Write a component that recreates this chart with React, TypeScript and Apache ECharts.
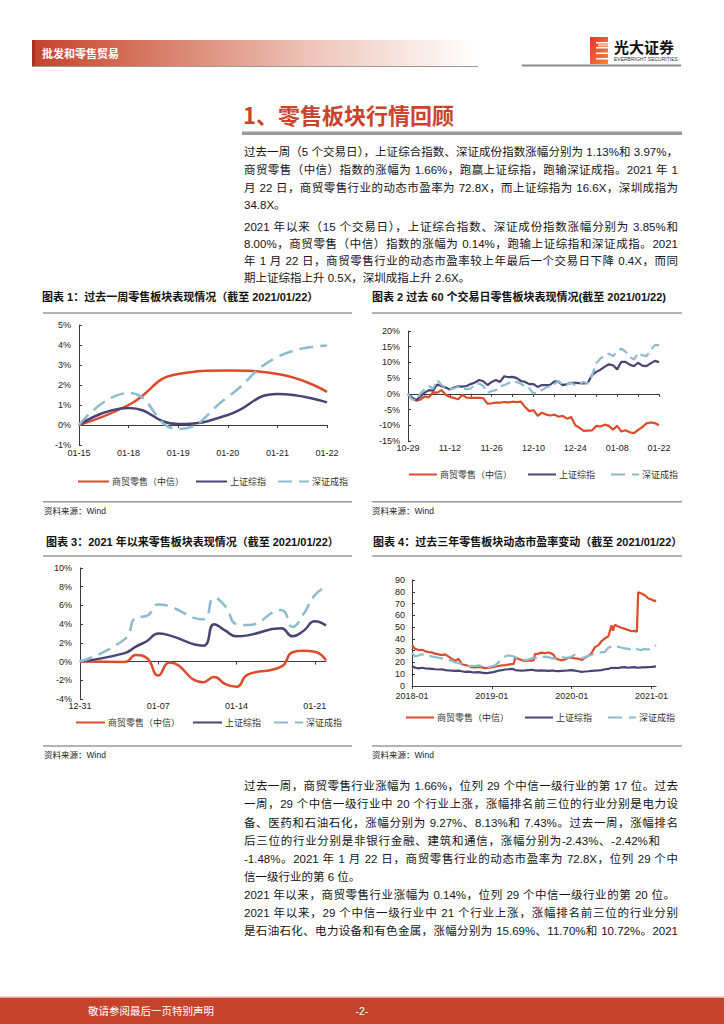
import React, { useEffect, useRef } from "react";
import * as echarts from "echarts";

const FONT = "'Liberation Sans', 'Noto Sans CJK SC', sans-serif";

const seriesNames = ["商贸零售（中信）", "上证综指", "深证成指"];
const seriesColors = ["#dc4b2a", "#4a4474", "#8dbbd0"];

// 图表1：过去一周
const weekDates = ["01-15", "01-18", "01-19", "01-20", "01-21", "01-22"];
const weekRetail = [0, 1.0, 2.55, 2.72, 2.55, 1.66];
const weekSH = [0, 0.85, 0.05, 0.5, 1.55, 1.13];
const weekSZ = [0, 1.6, -0.2, 1.4, 3.4, 3.97];

// 图表2：过去60个交易日
const days60 = [
  "10-29", "10-30", "11-02", "11-03", "11-04", "11-05", "11-06", "11-09", "11-10", "11-11",
  "11-12", "11-13", "11-16", "11-17", "11-18", "11-19", "11-20", "11-23", "11-24", "11-25",
  "11-26", "11-27", "11-30", "12-01", "12-02", "12-03", "12-04", "12-07", "12-08", "12-09",
  "12-10", "12-11", "12-14", "12-15", "12-16", "12-17", "12-18", "12-21", "12-22", "12-23",
  "12-24", "12-25", "12-28", "12-29", "12-30", "12-31", "01-04", "01-05", "01-06", "01-07",
  "01-08", "01-11", "01-12", "01-13", "01-14", "01-15", "01-18", "01-19", "01-20", "01-21",
  "01-22",
];
const retail60 = [
  0, -1.5, -2.2, -1.8, -0.8, -1.1, 0.5, 0.4, 1.2, -0.3,
  -1.0, -1.3, -1.7, -0.3, -1.2, -1.3, -1.3, -1.3, -1.4, -3.1,
  -3.0, -2.8, -2.8, -2.6, -2.7, -2.5, -2.6, -2.5, -4.2, -5.5,
  -5.2, -7.0, -6.0, -6.6, -6.9, -6.6, -7.3, -7.0, -7.9, -7.4,
  -10.0, -10.8, -11.8, -11.7, -11.6, -10.2, -10.4, -9.8, -10.2, -11.4,
  -10.2, -12.0, -11.6, -12.2, -12.5, -11.5, -10.6, -9.4, -9.1, -9.3,
  -10.0,
];
const sh60 = [
  0, -1.2, -2.0, -0.8, 0.4, 1.2, 1.0, 3.0, 2.4, 2.0,
  1.4, 2.0, 2.4, 2.3, 2.5, 3.1, 3.6, 4.4, 4.0, 2.8,
  3.8, 4.4, 3.8, 5.6, 5.3, 5.4, 5.0, 4.1, 3.8, 3.1,
  3.1, 2.2, 2.8, 2.8, 2.9, 4.0, 3.8, 2.8, 3.1, 3.5,
  3.5, 3.4, 3.3, 3.5, 6.0, 7.0, 7.7, 8.6, 9.4, 9.1,
  7.8, 10.2, 10.2, 9.3, 8.8, 9.9, 9.0, 8.8, 9.7, 10.5,
  10.1,
];
const sz60 = [
  0, -1.8, -2.0, 0.2, 1.5, 2.4, 1.7, 4.4, 2.8, 2.0,
  1.5, 1.8, 2.2, 1.8, 1.5, 1.7, 2.8, 3.3, 2.5, 0.3,
  0.9, 1.2, 2.4, 2.8, 3.4, 3.8, 3.8, 3.2, 2.4, 1.7,
  0.1, 0.6, 1.2, 2.0, 2.4, 3.1, 4.1, 2.8, 3.0, 3.5,
  2.8, 3.3, 3.8, 3.3, 5.9, 9.7, 11.3, 12.0, 12.8, 12.0,
  13.4, 14.4, 13.4, 11.8, 10.9, 13.0, 12.3, 12.0, 13.9, 15.5,
  15.5,
];

// 图表3：2021年以来
const ytdDates = [
  "2020-12-31", "2021-01-04", "2021-01-05", "2021-01-06", "2021-01-07", "2021-01-08",
  "2021-01-11", "2021-01-12", "2021-01-13", "2021-01-14", "2021-01-15", "2021-01-18",
  "2021-01-19", "2021-01-20", "2021-01-21", "2021-01-22",
];
const ytdRetail = [0, -0.05, 0.7, 0.35, -1.5, -0.1, -2.2, -1.65, -2.4, -2.7, -1.4, -0.55, 1.0, 1.15, 1.05, 0.14];
const ytdSH = [0, 0.9, 1.6, 2.2, 3.0, 2.8, 1.7, 4.0, 3.3, 2.7, 2.8, 3.55, 2.7, 3.3, 4.3, 3.85];
const ytdSZ = [0, 2.4, 4.7, 4.9, 6.1, 5.9, 4.5, 6.8, 5.9, 4.0, 3.9, 5.5, 3.7, 5.1, 7.1, 8.0];
const ytdTickDates = ["2020-12-31", "2021-01-07", "2021-01-14", "2021-01-21"];
const ytdTickLabels = ["12-31", "01-07", "01-14", "01-21"];

// 图表4：过去三年动态市盈率
const peDates = [
  "2018-01-01", "2018-01-16", "2018-02-01", "2018-02-16", "2018-03-01", "2018-03-16",
  "2018-04-01", "2018-04-16", "2018-05-01", "2018-05-16", "2018-06-01", "2018-06-16",
  "2018-07-01", "2018-07-16", "2018-08-01", "2018-08-16", "2018-09-01", "2018-09-16",
  "2018-10-01", "2018-10-16", "2018-11-01", "2018-11-16", "2018-12-01", "2018-12-16",
  "2019-01-01", "2019-01-16", "2019-02-01", "2019-02-16", "2019-03-01", "2019-03-16",
  "2019-04-01", "2019-04-10", "2019-04-16", "2019-05-01", "2019-05-16", "2019-06-01",
  "2019-06-16", "2019-07-01", "2019-07-10", "2019-07-16", "2019-08-01", "2019-08-16",
  "2019-09-01", "2019-09-16", "2019-10-01", "2019-10-10", "2019-10-16", "2019-11-01",
  "2019-11-16", "2019-12-01", "2019-12-16", "2020-01-01", "2020-01-16", "2020-02-01",
  "2020-02-16", "2020-03-01", "2020-03-16", "2020-04-01", "2020-04-16", "2020-05-01",
  "2020-05-16", "2020-06-01", "2020-06-16", "2020-07-01", "2020-07-08", "2020-07-16",
  "2020-08-01", "2020-08-16", "2020-09-01", "2020-09-16", "2020-10-01", "2020-10-16",
  "2020-10-26", "2020-11-01", "2020-11-16", "2020-12-01", "2020-12-16", "2021-01-01",
  "2021-01-16", "2021-01-22",
];
const peRetail = [
  34.6, 31.5, 30.5, 30.8, 29.5, 28.8, 28.5, 27.5, 26.8, 26.2, 26.8, 25,
  23, 21.5, 23, 18.5, 17.8, 17, 16, 15.8, 16.2, 15.8, 15.2, 15.5,
  15.8, 16.5, 17, 17.5, 17.8, 18.2, 18.5, 18.8, 24, 23, 22, 21.3,
  21.8, 21.5, 22, 27, 27.5, 28.3, 27.8, 28.5, 27.5, 26.5, 24, 22.5,
  21.8, 22.5, 24, 24, 23.5, 23.2, 22, 24, 25.5, 28, 33, 34.5,
  38, 40.5, 42, 51.5, 47, 52, 50.5, 49.5, 48.5, 47.5, 46.5, 46.8,
  46, 79.5, 78.5, 77, 74.5, 73.5, 72, 72.8,
];
const peSH = [
  17, 15.5, 15, 15.5, 15, 14.8, 14.5, 14.2, 14, 14.2, 13.5, 13.2,
  13, 12.8, 13, 12.5, 12, 12.2, 11.8, 11.5, 11.8, 11.3, 11, 11.2,
  11.5, 12.2, 13, 13.5, 14, 14.2, 14.5, 14.2, 13.5, 13.2, 13, 13.2,
  13.5, 13.8, 13.5, 13.2, 13, 13.2, 13, 12.8, 13, 13, 12.8, 12.6,
  12.8, 13, 13.2, 13.5, 13, 12.5, 12, 12.3, 12.5, 12.8, 13, 13.2,
  13.5, 14.2, 14.5, 15.5, 15, 15.5, 15.3, 15.8, 16, 15.5, 15.8, 16,
  15.6, 15.5, 15.8, 15.8, 16, 16.2, 16.5, 16.6,
];
const peSZ = [
  28, 25, 26, 27, 25.5, 26, 25, 24.5, 24, 23.5, 23, 22,
  21.5, 20, 19.5, 18.5, 17.5, 17, 17.2, 17, 17.5, 16.8, 16.5, 16.2,
  16.8, 17.5, 20, 23.5, 25, 26, 25.5, 25, 24.5, 23.5, 22.5, 22,
  22.5, 23.5, 24, 24, 23.5, 24.5, 25, 24.5, 23.5, 23.5, 23.2, 24,
  24.5, 24, 24, 25, 26.5, 25, 23.5, 24.5, 25.5, 26.5, 27.5, 28,
  28.5, 29, 32.5, 33.5, 33, 32.5, 33.5, 32.5, 32, 31.5, 31, 32,
  31.5, 31, 30.5, 31.5, 31, 32.5, 34, 34.8,
];
const peTickDates = ["2018-01-01", "2019-01-01", "2020-01-01", "2021-01-01"];
const peTickLabels = ["2018-01", "2019-01", "2020-01", "2021-01"];

// 正文
const introLines = [
  { t: "过去一周（5 个交易日），上证综合指数、深证成份指数涨幅分别为 1.13%和 3.97%，", y: 152.3, w: 434 },
  { t: "商贸零售（中信）指数的涨幅为 1.66%，跑赢上证综指，跑输深证成指。2021 年 1", y: 170, w: 434 },
  { t: "月 22 日，商贸零售行业的动态市盈率为 72.8X，而上证综指为 16.6X，深圳成指为", y: 187.7, w: 434 },
  { t: "34.8X。", y: 205, w: 0 },
  { t: "2021 年以来（15 个交易日），上证综合指数、深证成份指数涨幅分别为 3.85%和", y: 226.7, w: 434 },
  { t: "8.00%，商贸零售（中信）指数的涨幅为 0.14%，跑输上证综指和深证成指。2021", y: 244, w: 434 },
  { t: "年 1 月 22 日，商贸零售行业的动态市盈率较上年最后一个交易日下降 0.4X，而同", y: 261.3, w: 434 },
  { t: "期上证综指上升 0.5X，深圳成指上升 2.6X。", y: 278.3, w: 0 },
];
const bodyLines = [
  { t: "过去一周，商贸零售行业涨幅为 1.66%，位列 29 个中信一级行业的第 17 位。过去", y: 785.7, w: 434 },
  { t: "一周，29 个中信一级行业中 20 个行业上涨，涨幅排名前三位的行业分别是电力设", y: 804.3, w: 434 },
  { t: "备、医药和石油石化，涨幅分别为 9.27%、8.13%和 7.43%。过去一周，涨幅排名", y: 822.7, w: 434 },
  { t: "后三位的行业分别是非银行金融、建筑和通信，涨幅分别为-2.43%、-2.42%和", y: 841, w: 416 },
  { t: "-1.48%。2021 年 1 月 22 日，商贸零售行业的动态市盈率为 72.8X，位列 29 个中", y: 859.3, w: 434 },
  { t: "信一级行业的第 6 位。", y: 876.7, w: 0 },
  { t: "2021 年以来，商贸零售行业涨幅为 0.14%，位列 29 个中信一级行业的第 20 位。", y: 895, w: 431 },
  { t: "2021 年以来，29 个中信一级行业中 21 个行业上涨，涨幅排名前三位的行业分别", y: 913.3, w: 434 },
  { t: "是石油石化、电力设备和有色金属，涨幅分别为 15.69%、11.70%和 10.72%。2021", y: 931, w: 434 },
];

const dayOffset = (d: string, base: string) => Math.round((Date.parse(d) - Date.parse(base)) / 86400000);
const monthOffset = (d: string) => {
  const [y, m, dd] = d.split("-").map(Number);
  const dim = new Date(y, m, 0).getDate();
  return (y - 2018) * 12 + (m - 1) + (dd - 1) / dim;
};

const AX = "#3a3a3a";
const labelStyle = { fontSize: 9, color: "#222", fontFamily: FONT };

function yAxisOpt(gridIndex: number, min: number, max: number, interval: number, pct: boolean, margin: number) {
  return {
    type: "value", gridIndex, min, max, interval,
    axisLine: { show: true, lineStyle: { color: AX, width: 1 } },
    axisTick: { show: true, inside: true, length: 3, lineStyle: { color: AX } },
    axisLabel: { ...labelStyle, formatter: pct ? "{value}%" : "{value}", margin },
    splitLine: { show: false },
  };
}

function textEl(text: string, x: number, y: number, size: number, opts: any = {}) {
  return {
    type: "text", x, y, silent: true,
    style: {
      text, fontSize: size, fontFamily: opts.family || FONT, fontWeight: opts.weight || "normal",
      fill: opts.fill || "#111", verticalAlign: "middle", textVerticalAlign: "middle",
      align: opts.align || "left", textAlign: opts.align || "left",
    },
  };
}
function lineEl(x1: number, y1: number, x2: number, y2: number, color: string, w: number) {
  return { type: "line", silent: true, shape: { x1, y1, x2, y2 }, style: { stroke: color, lineWidth: w } };
}
function rectEl(x: number, y: number, width: number, height: number, fill: any) {
  return { type: "rect", silent: true, shape: { x, y, width, height }, style: { fill } };
}

function buildOption() {
  const ytdX = ytdDates.map((d) => dayOffset(d, ytdDates[0]));
  const ytdMax = ytdX[ytdX.length - 1];
  const ytdTicks = ytdTickDates.map((d) => dayOffset(d, ytdDates[0]));
  const peX = peDates.map(monthOffset);
  const peMax = peX[peX.length - 1];
  const peTicks = peTickDates.map(monthOffset);

  const dashes = [[14, 7], [10, 5], [13, 7], [14, 6]];
  const widths = [2.5, 2.2, 2.5, 2.2];

  const mk = (chart: number, k: number, data: any[], xIdx: number, yIdx: number, smooth: boolean) => ({
    type: "line", name: seriesNames[k], xAxisIndex: xIdx, yAxisIndex: yIdx, data, smooth,
    symbol: "none", showSymbol: false, z: 2 + k,
    lineStyle: { color: seriesColors[k], width: widths[chart], type: k === 2 ? dashes[chart] : "solid", cap: "butt" },
    itemStyle: { color: seriesColors[k] },
  });

  const pairs = (xs: number[], ys: number[]) => xs.map((x, i) => [x, ys[i]]);

  const catLabelAxis = (gridIndex: number, data: string[], interval: number, margin: number) => ({
    type: "category", gridIndex, data, boundaryGap: false, position: "bottom",
    axisLine: { show: false, onZero: false }, axisTick: { show: false },
    axisLabel: { ...labelStyle, interval, margin }, splitLine: { show: false },
  });
  const catZeroAxis = (gridIndex: number, data: string[], tickInterval: number) => ({
    type: "category", gridIndex, data, boundaryGap: false, position: "bottom",
    axisLine: { show: true, onZero: true, lineStyle: { color: AX, width: 1 } },
    axisTick: { show: true, interval: tickInterval, length: 3, lineStyle: { color: AX } },
    axisLabel: { show: false }, splitLine: { show: false },
  });

  const legend = (left: number, top: number, itemWidth: number, gap: number) => ({
    data: seriesNames, left, top, orient: "horizontal", itemWidth, itemHeight: 8, itemGap: gap,
    selectedMode: false, itemStyle: { opacity: 0, borderWidth: 0 },
    textStyle: { fontSize: 9, color: "#333", fontFamily: FONT, padding: [0, 0, 0, -2] },
    padding: 0,
  });

  const headerGrad = {
    type: "linear", x: 0, y: 0, x2: 1, y2: 0,
    colorStops: [
      { offset: 0, color: "#c5412a" },
      { offset: 0.3, color: "#d9806c" },
      { offset: 0.65, color: "#efc9bf" },
      { offset: 1, color: "#ffffff" },
    ],
  };
  const logoGrad = {
    type: "linear", x: 0, y: 0, x2: 1, y2: 1,
    colorStops: [{ offset: 0, color: "#e8332a" }, { offset: 1, color: "#f2873a" }],
  };

  const graphics: any[] = [
    // header
    rectEl(32, 40, 446, 26, headerGrad),
    rectEl(32, 40, 3, 26, "#a8351f"),
    lineEl(32, 66.5, 478, 66.5, "#9a9a9a", 1),
    textEl("批发和零售贸易", 42, 53, 11, { weight: "bold", fill: "#ffffff", family: "'Noto Sans CJK SC', sans-serif" }),
    // logo
    rectEl(590, 37, 18, 27, logoGrad),
    rectEl(596, 42, 12, 1.5, "#ffffff"),
    rectEl(596, 47, 12, 1.5, "#ffffff"),
    rectEl(596, 52.5, 12, 1.5, "#ffffff"),
    rectEl(596, 58, 12, 1.5, "#ffffff"),
    rectEl(598, 44, 10, 2.5, "#f6b39a"),
    textEl("光大证券", 614, 46.5, 15, { weight: "bold", fill: "#111", family: "'Noto Sans CJK SC', sans-serif" }),
    textEl("EVERBRIGHT SECURITIES", 614, 59, 5, { fill: "#333" }),
    lineEl(522, 65.5, 681, 65.5, "#8a8a8a", 2),
    // section title
    textEl("1、零售板块行情回顾", 243, 114, 22, { weight: "bold", fill: "#c8452b", family: "'Noto Sans CJK SC', sans-serif" }),
    rectEl(242, 131.5, 440, 3.5, "#9c9c9c"),
    // chart titles
    textEl("图表 1：过去一周零售板块表现情况（截至 2021/01/22）", 42, 297, 11, { weight: "bold" }),
    textEl("图表 2 过去 60 个交易日零售板块表现情况(截至 2021/01/22)", 372, 297, 11, { weight: "bold" }),
    textEl("图表 3：2021 年以来零售板块表现情况（截至 2021/01/22）", 46, 541.7, 11, { weight: "bold" }),
    textEl("图表 4：过去三年零售板块动态市盈率变动（截至 2021/01/22）", 373, 541.7, 11, { weight: "bold" }),
    // rules
    lineEl(43, 313, 352, 313, "#9a9a9a", 1.5),
    lineEl(372, 313, 682, 313, "#9a9a9a", 1.5),
    lineEl(43, 501.7, 352, 501.7, "#9a9a9a", 1.5),
    lineEl(372, 501.7, 682, 501.7, "#9a9a9a", 1.5),
    lineEl(43, 556, 352, 556, "#9a9a9a", 1.5),
    lineEl(372, 556, 682, 556, "#9a9a9a", 1.5),
    lineEl(43, 746, 352, 746, "#9a9a9a", 1.5),
    lineEl(372, 746, 682, 746, "#9a9a9a", 1.5),
    // sources
    textEl("资料来源：Wind", 44, 511, 8.5, { fill: "#222" }),
    textEl("资料来源：Wind", 372, 511, 8.5, { fill: "#222" }),
    textEl("资料来源：Wind", 44, 754.5, 8.5, { fill: "#222" }),
    textEl("资料来源：Wind", 372, 755, 8.5, { fill: "#222" }),
    // footer
    rectEl(0, 996.5, 724, 1.5, "#eba593"),
    rectEl(0, 998, 724, 26, "#c5432a"),
    textEl("敬请参阅最后一页特别声明", 88, 1011, 10.5, { fill: "#ffffff" }),
    textEl("-2-", 362, 1011, 10.5, { fill: "#ffffff", align: "center" }),
  ];

  return {
    animation: false,
    backgroundColor: "#ffffff",
    textStyle: { fontFamily: FONT },
    grid: [
      { left: 79, top: 325, width: 248, height: 120 },
      { left: 408, top: 331, width: 251, height: 110 },
      { left: 80, top: 568, width: 246, height: 131 },
      { left: 412, top: 580, width: 244, height: 106 },
    ],
    xAxis: [
      catLabelAxis(0, weekDates, 0, 3),
      catZeroAxis(0, weekDates, 0),
      catLabelAxis(1, days60, 9, 2),
      catZeroAxis(1, days60, 4),
      {
        type: "value", gridIndex: 2, min: 0, max: ytdMax, position: "bottom",
        axisLine: { show: false, onZero: false }, axisTick: { show: false }, splitLine: { show: false },
        axisLabel: {
          ...labelStyle, margin: 2, customValues: ytdTicks,
          formatter: (v: number) => ytdTickLabels[ytdTicks.indexOf(v)] ?? "",
        },
      },
      {
        type: "value", gridIndex: 2, min: 0, max: ytdMax, position: "bottom",
        axisLine: { show: true, onZero: true, lineStyle: { color: AX, width: 1 } },
        axisTick: { show: true, length: 3, customValues: ytdTicks, lineStyle: { color: AX } },
        axisLabel: { show: false }, splitLine: { show: false },
      },
      {
        type: "value", gridIndex: 3, min: 0, max: peMax, position: "bottom",
        axisLine: { show: true, onZero: false, lineStyle: { color: AX, width: 1 } },
        axisTick: { show: true, length: 3, customValues: peTicks, lineStyle: { color: AX } },
        splitLine: { show: false },
        axisLabel: {
          ...labelStyle, margin: 5, customValues: peTicks,
          formatter: (v: number) => {
            const i = peTicks.findIndex((t) => Math.abs(t - v) < 1e-6);
            return i >= 0 ? peTickLabels[i] : "";
          },
        },
      },
    ],
    yAxis: [
      yAxisOpt(0, -1, 5, 1, true, 8),
      yAxisOpt(1, -15, 20, 5, true, 8),
      yAxisOpt(2, -4, 10, 2, true, 8),
      yAxisOpt(3, 0, 90, 10, false, 7),
    ],
    legend: [
      legend(77, 477, 31, 11),
      legend(408, 470, 28, 15),
      legend(75, 718, 29, 12),
      legend(405, 713, 28, 15),
    ],
    series: [
      mk(0, 0, weekRetail, 0, 0, true),
      mk(0, 1, weekSH, 0, 0, true),
      mk(0, 2, weekSZ, 0, 0, true),
      mk(1, 0, retail60, 2, 1, false),
      mk(1, 1, sh60, 2, 1, false),
      mk(1, 2, sz60, 2, 1, false),
      mk(2, 0, pairs(ytdX, ytdRetail), 4, 2, true),
      mk(2, 1, pairs(ytdX, ytdSH), 4, 2, true),
      mk(2, 2, pairs(ytdX, ytdSZ), 4, 2, true),
      mk(3, 0, pairs(peX, peRetail), 6, 3, false),
      mk(3, 1, pairs(peX, peSH), 6, 3, false),
      mk(3, 2, pairs(peX, peSZ), 6, 3, false),
    ],
    graphic: { elements: graphics },
  };
}

const lineStyleBase: React.CSSProperties = {
  position: "absolute",
  left: 244,
  height: 16,
  lineHeight: "16px",
  fontSize: 11.5,
  whiteSpace: "nowrap",
  color: "#151515",
  fontFamily: "'Liberation Sans', 'Noto Sans CJK SC', sans-serif",
};

function TextLines({ lines }: { lines: { t: string; y: number; w: number }[] }) {
  return (
    <>
      {lines.map((l, i) => (
        <div
          key={i}
          style={{
            ...lineStyleBase,
            top: l.y - 8,
            width: l.w > 0 ? l.w : undefined,
            textAlign: l.w > 0 ? "justify" : "left",
            textAlignLast: l.w > 0 ? "justify" : "left",
          }}
        >
          {l.t}
        </div>
      ))}
    </>
  );
}

export default function App() {
  const ref = useRef<HTMLDivElement>(null);
  useEffect(() => {
    if (!ref.current) return;
    const chart = echarts.init(ref.current, null, { renderer: "svg" });
    chart.setOption(buildOption() as any);
    return () => chart.dispose();
  }, []);
  return (
    <>
      <div ref={ref} style={{ position: "absolute", left: 0, top: 0, width: 724, height: 1024 }} />
      <TextLines lines={introLines} />
      <TextLines lines={bodyLines} />
    </>
  );
}
